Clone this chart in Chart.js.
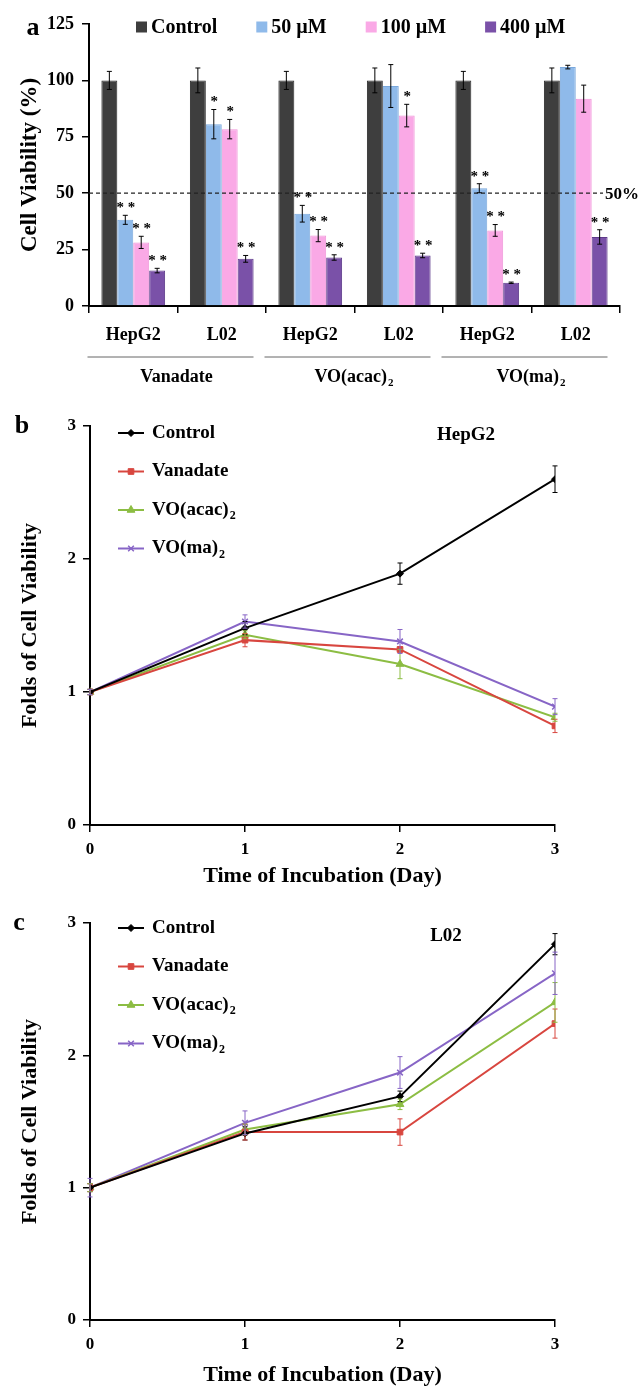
<!DOCTYPE html>
<html>
<head>
<meta charset="utf-8">
<script src="https://cdn.jsdelivr.net/npm/chart.js@4"></script>
<style>
  html, body { margin: 0; padding: 0; background: #fff; }
  #wrap { position: relative; width: 638px; height: 1389px; }
  canvas { position: absolute; left: 0; display: block; }
</style>
</head>
<body>
<div id="wrap">
  <canvas id="chartA" width="638" height="400" style="top:0"></canvas>
  <canvas id="chartB" width="638" height="490" style="top:400px"></canvas>
  <canvas id="chartC" width="638" height="499" style="top:890px"></canvas>
</div>
<script>
// ---- panel a: viability after 48 h ----
const cellLines = ['HepG2', 'L02', 'HepG2', 'L02', 'HepG2', 'L02'];
const compounds = ['Vanadate', 'VO(acac)₂', 'VO(ma)₂'];
const doseLabels = ['Control', '50 µM', '100 µM', '400 µM'];
const control = [100, 100, 100, 100, 100, 100];
const dose50 = [38.2, 80.6, 40.9, 97.5, 52.2, 105.9];
const dose100 = [28.2, 78.4, 31.2, 84.4, 33.5, 91.9];
const dose400 = [15.7, 20.9, 21.5, 22.4, 10.3, 30.6];
const controlErr = [4, 5.5, 4, 5.5, 4, 5.5];
const dose50Err = [2, 6.5, 3.7, 9.5, 2, 0.8];
const dose100Err = [2.7, 4.3, 2.7, 5, 2.6, 6];
const dose400Err = [1, 1.5, 1.2, 1, 0.3, 3.2];
const dose50Stars = ['**', '*', '**', '', '**', ''];
const dose100Stars = ['**', '*', '**', '*', '**', ''];
const dose400Stars = ['**', '**', '**', '**', '**', '**'];
const refValue = 50;

// ---- panels b, c: folds of viability over time ----
const days = [0, 1, 2, 3];
const seriesNames = ['Control', 'Vanadate', 'VO(acac)₂', 'VO(ma)₂'];
const hepControl = [1, 1.48, 1.89, 2.60];
const hepVanadate = [1, 1.39, 1.32, 0.745];
const hepAcac = [1, 1.43, 1.21, 0.81];
const hepMa = [1, 1.53, 1.38, 0.89];
const hepControlErr = [0.02, 0.05, 0.08, 0.1];
const hepVanadateErr = [0.02, 0.05, 0.02, 0.05];
const hepAcacErr = [0.02, 0.03, 0.11, 0.03];
const hepMaErr = [0.02, 0.05, 0.09, 0.06];

const l02Control = [1, 1.41, 1.69, 2.84];
const l02Vanadate = [1, 1.42, 1.42, 2.24];
const l02Acac = [1, 1.44, 1.63, 2.40];
const l02Ma = [1, 1.49, 1.87, 2.62];
const l02ControlErr = [0.03, 0.05, 0.04, 0.08];
const l02VanadateErr = [0.03, 0.06, 0.1, 0.11];
const l02AcacErr = [0.03, 0.04, 0.04, 0.15];
const l02MaErr = [0.07, 0.09, 0.12, 0.16];

const FONT = '"Liberation Serif", "Times New Roman", serif';
Chart.defaults.font.family = FONT;
Chart.defaults.font.weight = 'bold';
Chart.defaults.color = '#000';

// 添字付きテキスト（末尾の ₂ を小さく下げて描く）
function drawRich(ctx, text, x, y, size, align) {
  const sub = text.endsWith('₂');
  const base = sub ? text.slice(0, -1) : text;
  const subSize = Math.round(size * 0.62);
  ctx.font = `bold ${size}px ${FONT}`;
  const wBase = ctx.measureText(base).width;
  ctx.font = `bold ${subSize}px ${FONT}`;
  const wSub = sub ? ctx.measureText('2').width : 0;
  let x0 = x;
  if (align === 'center') x0 = x - (wBase + wSub) / 2;
  ctx.textAlign = 'left';
  ctx.textBaseline = 'middle';
  ctx.fillStyle = '#000';
  ctx.font = `bold ${size}px ${FONT}`;
  ctx.fillText(base, x0, y);
  if (sub) {
    ctx.font = `bold ${subSize}px ${FONT}`;
    ctx.fillText('2', x0 + wBase + 1, y + size * 0.32);
  }
  return wBase + wSub;
}

function panelLetter(ctx, letter, x, y) {
  ctx.save();
  ctx.font = `bold 26px ${FONT}`;
  ctx.textAlign = 'center';
  ctx.textBaseline = 'middle';
  ctx.fillStyle = '#000';
  ctx.fillText(letter, x, y);
  ctx.restore();
}

// エラーバー（棒グラフ・折れ線グラフ共通）
const errorBarPlugin = {
  id: 'errorBars',
  afterDatasetsDraw(chart) {
    const ctx = chart.ctx;
    const yScale = chart.scales.y;
    chart.data.datasets.forEach((ds, i) => {
      if (!ds.errors) return;
      const meta = chart.getDatasetMeta(i);
      meta.data.forEach((el, j) => {
        const v = chart.config.type === 'bar' ? ds.data[j] : ds.data[j].y;
        const e = ds.errors[j];
        const yTop = yScale.getPixelForValue(v + e);
        const yBot = yScale.getPixelForValue(v - e);
        ctx.save();
        ctx.strokeStyle = ds.errorColor || '#000';
        ctx.lineWidth = 1;
        ctx.beginPath();
        ctx.moveTo(el.x, yTop); ctx.lineTo(el.x, yBot);
        ctx.moveTo(el.x - 2.5, yTop); ctx.lineTo(el.x + 2.5, yTop);
        ctx.moveTo(el.x - 2.5, yBot); ctx.lineTo(el.x + 2.5, yBot);
        ctx.stroke();
        if (ds.stars && ds.stars[j]) {
          ctx.font = `bold 15px ${FONT}`;
          ctx.fillStyle = '#000';
          ctx.textAlign = 'center';
          ctx.textBaseline = 'middle';
          ctx.fillText(ds.stars[j].split('').join(' '), el.x + 0.5, yTop - 7);
        }
        ctx.restore();
      });
    });
  }
};

// 50% の破線
const refLinePlugin = {
  id: 'refLine',
  afterDatasetsDraw(chart) {
    const ctx = chart.ctx;
    const y = chart.scales.y.getPixelForValue(refValue);
    ctx.save();
    ctx.strokeStyle = '#222';
    ctx.lineWidth = 1.3;
    ctx.setLineDash([4, 3]);
    ctx.beginPath();
    ctx.moveTo(chart.chartArea.left, y);
    ctx.lineTo(chart.chartArea.right - 17, y);
    ctx.stroke();
    ctx.setLineDash([]);
    ctx.font = `bold 17px ${FONT}`;
    ctx.fillStyle = '#000';
    ctx.textAlign = 'left';
    ctx.textBaseline = 'middle';
    ctx.fillText(refValue + '%', chart.chartArea.right - 15, y + 1);
    ctx.restore();
  }
};

// 化合物名と下線
const groupLabelPlugin = {
  id: 'groupLabels',
  afterDraw(chart) {
    const ctx = chart.ctx;
    const x = chart.scales.x;
    const base = chart.chartArea.bottom;
    compounds.forEach((name, k) => {
      const c = (x.getPixelForValue(2 * k) + x.getPixelForValue(2 * k + 1)) / 2 - 7;
      ctx.save();
      ctx.strokeStyle = '#666';
      ctx.lineWidth = 1;
      ctx.beginPath();
      ctx.moveTo(c - 83, base + 51);
      ctx.lineTo(c + 83, base + 51);
      ctx.stroke();
      drawRich(ctx, name, c + 6, base + 71, 18, 'center');
      ctx.restore();
    });
    panelLetter(ctx, 'a', 33, 28);
  }
};

// 棒グラフの凡例
const barLegendPlugin = {
  id: 'barLegend',
  afterDraw(chart) {
    const ctx = chart.ctx;
    let x = 136;
    const y = chart.chartArea.top + 3;
    ctx.save();
    chart.data.datasets.forEach(ds => {
      ctx.fillStyle = ds.backgroundColor;
      ctx.fillRect(x, y - 5.5, 11, 11);
      ctx.font = `bold 20px ${FONT}`;
      ctx.fillStyle = '#000';
      ctx.textAlign = 'left';
      ctx.textBaseline = 'middle';
      ctx.fillText(ds.label, x + 15, y + 1);
      x += 15 + ctx.measureText(ds.label).width + 39;
    });
    ctx.restore();
  }
};

// 折れ線グラフの凡例（線＋マーカー）
const lineLegendPlugin = {
  id: 'lineLegend',
  afterDraw(chart, args, opts) {
    const ctx = chart.ctx;
    const area = chart.chartArea;
    chart.data.datasets.forEach((ds, i) => {
      const y = area.top + opts.offset + i * 38.5;
      const x0 = area.left + 28;
      ctx.save();
      ctx.strokeStyle = ds.borderColor;
      ctx.fillStyle = ds.backgroundColor;
      ctx.lineWidth = 2;
      ctx.beginPath();
      ctx.moveTo(x0, y); ctx.lineTo(x0 + 26, y);
      ctx.stroke();
      ctx.lineWidth = ds.pointBorderWidth || 1;
      Chart.helpers.drawPoint(ctx, { pointStyle: ds.pointStyle, radius: ds.pointRadius, borderWidth: ds.pointBorderWidth || 1, rotation: 0 }, x0 + 13, y);
      drawRich(ctx, ds.label, x0 + 34, y, 19, 'left');
      ctx.restore();
    });
    drawRich(ctx, opts.cell, area.left + opts.cellX, area.top + opts.cellY, 19, 'center');
    panelLetter(ctx, opts.letter, opts.letterX, area.top);
  }
};

const chartA = new Chart(document.getElementById('chartA'), {
  type: 'bar',
  data: {
    labels: cellLines,
    datasets: [
      { label: doseLabels[0], data: control, errors: controlErr, backgroundColor: '#3e3e3e', borderColor: '#2a2a2a', borderWidth: 1 },
      { label: doseLabels[1], data: dose50, errors: dose50Err, stars: dose50Stars, backgroundColor: '#8fbaea', borderColor: '#7aa8dc', borderWidth: 1 },
      { label: doseLabels[2], data: dose100, errors: dose100Err, stars: dose100Stars, backgroundColor: '#faa9e6', borderColor: '#ef95d8', borderWidth: 1 },
      { label: doseLabels[3], data: dose400, errors: dose400Err, stars: dose400Stars, backgroundColor: '#7a51a8', borderColor: '#5e3a8a', borderWidth: 1 }
    ]
  },
  options: {
    responsive: false,
    animation: false,
    events: [],
    layout: { padding: { top: 24, right: 18, left: 0, bottom: 0 } },
    plugins: { legend: { display: false }, tooltip: { enabled: false } },
    datasets: { bar: { categoryPercentage: 0.72, barPercentage: 1 } },
    scales: {
      x: {
        grid: { offset: true, drawOnChartArea: false, tickLength: 7, color: '#000', lineWidth: 1.5 },
        border: { display: true, color: '#000', width: 2 },
        ticks: { font: { size: 18, weight: 'bold' }, color: '#000', padding: 12 },
        afterFit: s => { s.height = 94; }
      },
      y: {
        min: 0, max: 125,
        ticks: { stepSize: 25, font: { size: 18, weight: 'bold' }, color: '#000', padding: 8 },
        grid: { drawOnChartArea: false, tickLength: 7, color: '#000', lineWidth: 1.5 },
        border: { display: true, color: '#000', width: 2 },
        title: { display: true, text: 'Cell Viability (%)', font: { size: 23, weight: 'bold' }, color: '#000', padding: { top: 16, bottom: 0 } },
        afterFit: s => { s.width = 89; }
      }
    }
  },
  plugins: [refLinePlugin, errorBarPlugin, groupLabelPlugin, barLegendPlugin]
});

const lineStyles = [
  { color: '#000000', pointStyle: 'rectRot', pointRadius: 3.5, pointBorderWidth: 1 },
  { color: '#d8463f', pointStyle: 'rect', pointRadius: 4, pointBorderWidth: 1 },
  { color: '#8cbd43', pointStyle: 'triangle', pointRadius: 4.5, pointBorderWidth: 1 },
  { color: '#8765c6', pointStyle: 'crossRot', pointRadius: 4, pointBorderWidth: 1.5 }
];

function buildLineDatasets(values, errors) {
  return values.map((vals, i) => ({
    label: seriesNames[i],
    data: days.map((d, k) => ({ x: d, y: vals[k] })),
    errors: errors[i],
    errorColor: lineStyles[i].color,
    borderColor: lineStyles[i].color,
    backgroundColor: lineStyles[i].color,
    borderWidth: 2,
    tension: 0,
    pointStyle: lineStyles[i].pointStyle,
    pointRadius: lineStyles[i].pointRadius,
    pointBorderWidth: lineStyles[i].pointBorderWidth
  }));
}

function lineOptions(padTop, legendOpts, xHeight) {
  return {
    responsive: false,
    animation: false,
    events: [],
    layout: { padding: { top: padTop, right: 83, left: 0, bottom: 0 } },
    plugins: { legend: { display: false }, tooltip: { enabled: false }, lineLegend: legendOpts },
    scales: {
      x: {
        type: 'linear', min: 0, max: 3,
        ticks: { stepSize: 1, font: { size: 17, weight: 'bold' }, color: '#000', padding: 7 },
        grid: { drawOnChartArea: false, tickLength: 7, color: '#000', lineWidth: 1.5 },
        border: { display: true, color: '#000', width: 2 },
        title: { display: true, text: 'Time of Incubation (Day)', font: { size: 22, weight: 'bold' }, color: '#000', padding: { top: 0, bottom: 0 } },
        afterFit: s => { s.height = xHeight; }
      },
      y: {
        min: 0, max: 3,
        ticks: { stepSize: 1, font: { size: 17, weight: 'bold' }, color: '#000', padding: 7 },
        grid: { drawOnChartArea: false, tickLength: 7, color: '#000', lineWidth: 1.5 },
        border: { display: true, color: '#000', width: 2 },
        title: { display: true, text: 'Folds of Cell Viability', font: { size: 22, weight: 'bold' }, color: '#000', padding: { top: 17, bottom: 0 } },
        afterFit: s => { s.width = 90; }
      }
    }
  };
}

const chartB = new Chart(document.getElementById('chartB'), {
  type: 'line',
  data: {
    datasets: buildLineDatasets(
      [hepControl, hepVanadate, hepAcac, hepMa],
      [hepControlErr, hepVanadateErr, hepAcacErr, hepMaErr])
  },
  options: lineOptions(26, { offset: 7, cell: 'HepG2', cellX: 376, cellY: 9, letter: 'b', letterX: 22 }, 65),
  plugins: [errorBarPlugin, lineLegendPlugin]
});

const chartC = new Chart(document.getElementById('chartC'), {
  type: 'line',
  data: {
    datasets: buildLineDatasets(
      [l02Control, l02Vanadate, l02Acac, l02Ma],
      [l02ControlErr, l02VanadateErr, l02AcacErr, l02MaErr])
  },
  options: lineOptions(33, { offset: 5, cell: 'L02', cellX: 356, cellY: 13, letter: 'c', letterX: 19 }, 69),
  plugins: [errorBarPlugin, lineLegendPlugin]
});
</script>
</body>
</html>
